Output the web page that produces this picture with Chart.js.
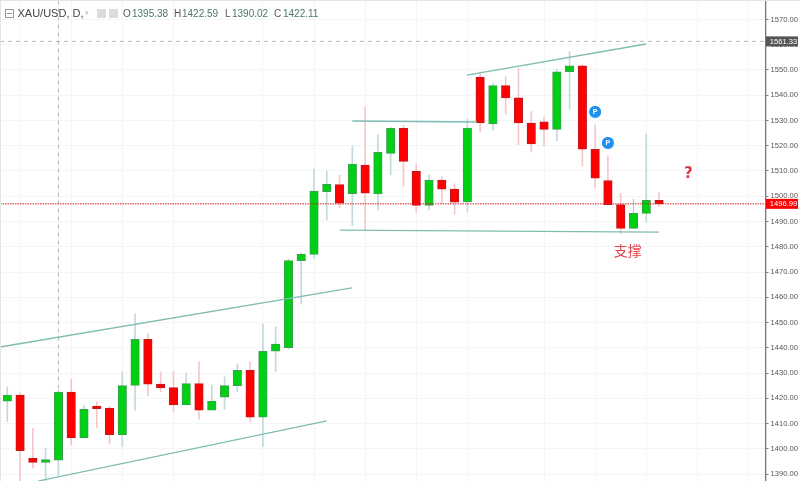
<!DOCTYPE html>
<html>
<head>
<meta charset="utf-8">
<title>XAU/USD</title>
<script src="https://cdn.jsdelivr.net/npm/chart.js@4/dist/chart.umd.min.js"></script>
<style>
  html, body { margin: 0; padding: 0; background: #fff; overflow: hidden; }
  canvas { display: block; }
</style>
</head>
<body>
<canvas id="chart" width="800" height="481"></canvas>
<script>
// daily candles
var opens = [1418.8,1421.3,1396.2,1394.6,1395.5,1422.4,1404.3,1416.9,1416.1,1405.6,1425.1,1443.3,1425.6,1424.2,1417.4,1425.8,1415.3,1420.4,1425.0,1431.1,1412.5,1438.6,1440.0,1474.5,1477.0,1501.8,1504.6,1501.0,1512.3,1500.9,1517.0,1526.9,1509.9,1496.4,1506.4,1502.8,1497.8,1547.2,1528.6,1543.8,1539.0,1529.0,1529.5,1526.5,1549.3,1551.6,1518.6,1506.2,1496.7,1487.3,1493.2,1498.4];
var highs = [1424.6,1422.1,1408.1,1400.3,1423.3,1427.5,1417.3,1418.6,1416.7,1430.5,1453.4,1445.7,1430.5,1430.8,1430.1,1434.4,1425.2,1428.5,1433.6,1434.4,1449.4,1448.3,1475.1,1477.5,1510.8,1510.0,1508.4,1519.9,1535.2,1524.3,1527.3,1528.2,1512.8,1508.5,1507.7,1504.9,1530.6,1549.3,1544.7,1547.3,1550.7,1533.5,1531.3,1550.3,1557.2,1552.0,1528.2,1515.9,1501.2,1498.9,1524.5,1501.6];
var lows = [1410.7,1386.8,1392.3,1385.2,1389.6,1401.5,1404.3,1408.3,1401.9,1400.8,1415.3,1420.9,1422.6,1414.8,1417.4,1411.7,1415.3,1415.6,1422.6,1410.7,1400.8,1430.5,1439.4,1457.3,1475.4,1490.6,1495.5,1488.3,1486.6,1494.6,1508.4,1504.1,1493.5,1494.6,1497.2,1492.9,1493.9,1525.6,1526.2,1532.6,1520.3,1517.6,1519.9,1522.0,1534.4,1512.0,1503.3,1496.7,1485.3,1487.3,1489.7,1496.1];
var closes = [1421.3,1399.2,1394.6,1395.7,1422.4,1404.3,1415.7,1415.9,1405.6,1425.0,1443.3,1425.6,1424.1,1417.4,1425.8,1415.3,1418.9,1425.0,1431.1,1412.5,1438.6,1441.5,1474.5,1477.1,1502.0,1504.7,1497.3,1512.7,1501.2,1517.4,1526.9,1513.8,1496.4,1506.4,1502.8,1497.7,1527.0,1529.0,1543.8,1538.9,1529.0,1520.7,1526.5,1549.3,1551.6,1518.6,1507.2,1496.7,1487.3,1493.2,1498.4,1497.0];

// hand drawn trend lines: [day, price] at each end
var channelTop = [[-0.57,1440.3],[26.97,1463.7]];
var channelBottom = [[2.4,1387.2],[25.0,1411.0]];
var wedgeTop = [[35.97,1548.0],[49.98,1560.3]];
var rangeTop = [[27.0,1529.8],[36.75,1529.4]];
var support = [[26.03,1486.6],[51.0,1485.8]];

var gridDays = [1,5,9,13,20,24,28,32,36,42,46,50,54,58];
var markers = [[46,1533.4],[47,1521.1]];
var crossDay = 4;
var crossPrice = 1561.33;
var lastPrice = 1496.99;
var xMin = -0.571, xMax = 59.33;
var yMin = 1387.23, yMax = 1577.72;

var GREEN = '#00d014', RED = '#ff0000';
var TREND = '#7fbdb2';

function up(i) { return closes[i] >= opens[i]; }
function toPoints(pairs) { return pairs.map(function (p) { return { x: p[0], y: p[1] }; }); }
function trend(pairs) {
  return { type: 'line', data: toPoints(pairs), borderColor: TREND, borderWidth: 1.3, pointRadius: 0, order: 0 };
}

var wicks = opens.map(function (o, i) { return { x: i, y: [lows[i], highs[i]] }; });
var bodies = opens.map(function (o, i) { return { x: i, y: [o, closes[i]] }; });

// text and price tags on top of the chart
var overlay = {
  id: 'overlay',
  afterDraw: function (chart) {
    var c = chart.ctx, xs = chart.scales.x, ys = chart.scales.y;
    c.save();

    // edge of the widget
    c.fillStyle = '#e4e4e4';
    c.fillRect(0, 0, 800, 1);
    c.fillRect(0, 0, 1, 481);

    // P badges
    c.font = 'bold 7px "Liberation Sans"';
    c.textAlign = 'center';
    c.textBaseline = 'middle';
    c.fillStyle = '#fff';
    markers.forEach(function (m) {
      c.fillText('P', xs.getPixelForValue(m[0]), ys.getPixelForValue(m[1]) + 0.5);
    });

    // annotations
    c.fillStyle = '#e2474c';
    c.font = '14px "Noto Sans CJK SC"';
    c.fillText('支撑', xs.getPixelForValue(48.55), ys.getPixelForValue(1478.3));
    c.fillStyle = '#dc3a42';
    c.font = 'bold 15px "DejaVu Sans"';
    c.fillText('?', xs.getPixelForValue(53.3), ys.getPixelForValue(1508.6));

    // price tags
    function tag(price, color) {
      var y = ys.getPixelForValue(price);
      c.fillStyle = color;
      c.fillRect(766, y - 5, 32, 10);
      c.fillStyle = '#fff';
      c.font = '7.6px "Liberation Sans"';
      c.fillText(price.toFixed(2), 783.5, y + 0.5);
    }
    tag(crossPrice, '#555555');
    tag(lastPrice, '#ff0000');

    // header
    c.textAlign = 'left';
    c.strokeStyle = '#9a9a9a';
    c.lineWidth = 1;
    c.strokeRect(5.5, 9.5, 8, 8);
    c.beginPath(); c.moveTo(7, 13.5); c.lineTo(12, 13.5); c.stroke();
    c.fillStyle = '#444';
    c.font = '11px "Liberation Sans"';
    c.fillText('XAU/USD, D,', 17.5, 14);
    c.fillStyle = '#c4c4c4';
    c.font = '7px "Liberation Sans"';
    c.fillText('▾', 85, 13);
    c.fillStyle = '#dcdcdc';
    c.fillRect(97, 9, 9, 9);
    c.fillRect(109, 9, 9, 9);
    var labels = ['O', 'H', 'L', 'C'];
    var values = ['1395.38', '1422.59', '1390.02', '1422.11'];
    var labelX = [123, 174, 225, 274];
    var valueX = [132, 182, 232, 283];
    c.font = '10px "Liberation Sans"';
    labels.forEach(function (t, i) {
      c.fillStyle = '#555';
      c.fillText(t, labelX[i], 14);
      c.fillStyle = '#4a7a62';
      c.fillText(values[i], valueX[i], 14);
    });
    c.restore();
  }
};

new Chart(document.getElementById('chart'), {
  type: 'bar',
  data: {
    datasets: [
      trend(channelTop),
      trend(channelBottom),
      trend(wedgeTop),
      trend(rangeTop),
      trend(support),
      {
        type: 'line',
        data: toPoints([[xMin, crossPrice], [xMax, crossPrice]]),
        borderColor: '#b5b5b5', borderWidth: 1, borderDash: [4, 4], pointRadius: 0, order: 1
      },
      {
        type: 'line',
        data: toPoints([[crossDay, 1389], [crossDay, yMax]]),
        borderColor: '#b5b5b5', borderWidth: 1, borderDash: [4, 4], pointRadius: 0, order: 5
      },
      {
        type: 'line',
        data: toPoints([[xMin, lastPrice], [xMax, lastPrice]]),
        borderColor: '#d8202a', borderWidth: 1, borderDash: [1.5, 1], pointRadius: 0, order: 1
      },
      {
        type: 'scatter',
        data: toPoints(markers),
        backgroundColor: '#1e90f0', borderColor: '#fff', borderWidth: 1, pointRadius: 6.5, order: 0
      },
      {
        label: 'wick',
        data: wicks,
        grouped: false,
        barThickness: 1,
        backgroundColor: opens.map(function (o, i) { return up(i) ? '#c3dada' : '#f6c6ca'; }),
        order: 4
      },
      {
        label: 'body',
        data: bodies,
        grouped: false,
        barThickness: 8.5,
        borderWidth: 1,
        borderSkipped: false,
        backgroundColor: opens.map(function (o, i) { return up(i) ? GREEN : RED; }),
        borderColor: opens.map(function (o, i) { return up(i) ? '#3f9c50' : '#bf1a1f'; }),
        order: 3
      }
    ]
  },
  options: {
    responsive: false,
    animation: false,
    layout: { padding: 0, autoPadding: false },
    plugins: { legend: { display: false }, tooltip: { enabled: false } },
    scales: {
      x: {
        type: 'linear',
        min: xMin,
        max: xMax,
        offset: false,
        afterBuildTicks: function (axis) {
          axis.ticks = gridDays.map(function (d) { return { value: d }; });
        },
        ticks: { display: false, autoSkip: false },
        border: { display: false },
        grid: { color: '#f3f5f6', offset: false, drawTicks: false }
      },
      y: {
        position: 'right',
        min: yMin,
        max: yMax,
        afterFit: function (axis) {
          axis.width = 34.5;
          axis.paddingTop = 0;
          axis.paddingBottom = 0;
        },
        border: { color: '#777', width: 1.3 },
        grid: { color: '#f3f5f6', tickColor: '#777', tickLength: 3 },
        ticks: {
          stepSize: 10,
          includeBounds: false,
          padding: 2,
          color: '#555',
          font: { family: '"Liberation Sans"', size: 7.6 },
          callback: function (v) { return v.toFixed(2); }
        }
      }
    }
  },
  plugins: [overlay]
});
</script>
</body>
</html>
